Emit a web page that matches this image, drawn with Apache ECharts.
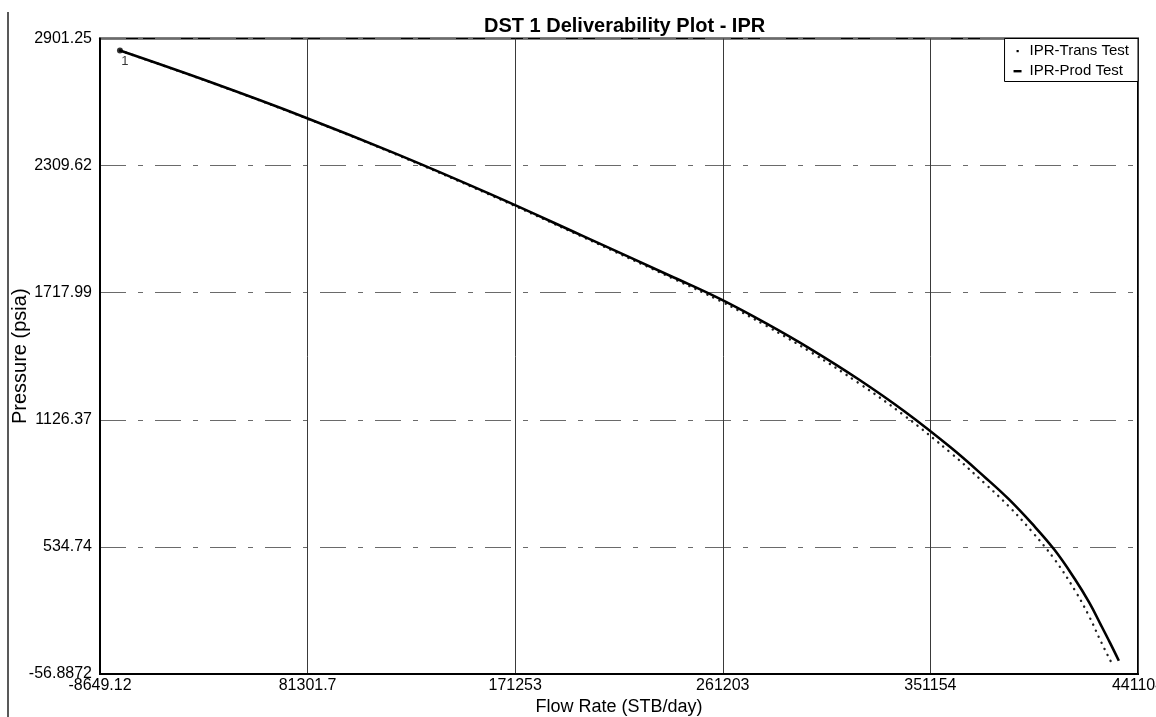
<!DOCTYPE html>
<html>
<head>
<meta charset="utf-8">
<style>
  html, body { margin: 0; padding: 0; background: #fff; }
  #chart { width: 1156px; height: 717px; }
</style>
<script src="https://cdn.jsdelivr.net/npm/echarts@6/dist/echarts.min.js"></script>
</head>
<body>
<div id="chart"></div>
<script>
// ---- Data ----
const xTicks = [-8649.12, 81301.7, 171253, 261203, 351154, 441104];
const xTickLabels = ['-8649.12', '81301.7', '171253', '261203', '351154', '441104'];
const yTicks = [-56.8872, 534.74, 1126.37, 1717.99, 2309.62, 2901.25];
const yTickLabels = ['-56.8872', '534.74', '1126.37', '1717.99', '2309.62', '2901.25'];

// IPR-Prod Test (solid line): flow rate (STB/day) and pressure (psia)
const prodQ = [0, 40000, 80000, 120000, 160000, 200000, 240000, 260000, 280000, 300000, 320000, 340000, 360000, 375000, 385000, 395000, 405000, 413800, 420000, 425000, 429000, 432800];
const prodP = [2845, 2695, 2535, 2363, 2179, 1985, 1789, 1689, 1575, 1451, 1315, 1165, 997, 857, 758, 645, 520, 384, 275, 172, 88, 5];

// IPR-Trans Test (dotted line)
const transQ = [0, 40000, 80000, 120000, 160000, 200000, 240000, 260000, 280000, 300000, 320000, 340000, 360000, 375000, 385000, 395000, 405000, 413800, 420000, 425000, 429300];
const transP = [2845, 2694, 2533, 2360, 2175, 1980, 1782, 1680, 1564, 1437, 1298, 1145, 972, 827, 725, 608, 476, 332, 210, 95, 2];

// Test point "1"
const testQ = [0];
const testP = [2845];
const testLabels = ['1'];

const FONT = 'Liberation Sans';

function pairs(xs, ys) { return xs.map((x, i) => [x, ys[i]]); }
function tickLabel(ticks, labels) {
  return function (v) {
    for (let i = 0; i < ticks.length; i++) {
      if (Math.abs(ticks[i] - v) < 1e-6 * Math.max(1, Math.abs(ticks[i]))) return labels[i];
    }
    return '';
  };
}

const chart = echarts.init(document.getElementById('chart'), null, { renderer: 'canvas' });

chart.setOption({
  animation: false,
  backgroundColor: '#fff',
  title: {
    text: 'DST 1 Deliverability Plot - IPR',
    left: 484,
    top: 16,
    padding: 0,
    textStyle: { fontFamily: FONT, fontSize: 20, fontWeight: 'bold', color: '#000' }
  },
  legend: {
    data: [
      { name: 'IPR-Trans Test', icon: 'path://M0,0 M14,14 M6,6 h2.2 v2.2 h-2.2 z' },
      { name: 'IPR-Prod Test', icon: 'path://M0,0 M14,14 M3,6 h8 v2.4 h-8 z' }
    ],
    orient: 'vertical',
    right: 18,
    top: 38.5,
    itemWidth: 14,
    itemHeight: 14,
    itemGap: 5,
    padding: [5, 9, 3, 6],
    backgroundColor: '#fff',
    borderColor: '#000',
    borderWidth: 1,
    itemStyle: { color: '#000' },
    textStyle: { fontFamily: FONT, fontSize: 15, color: '#000' }
  },
  grid: {
    left: 100,
    right: 18,
    top: 38.5,
    bottom: 43,
    show: true,
    borderColor: '#000',
    borderWidth: 2,
    containLabel: false,
    outerBoundsMode: 'none'
  },
  xAxis: {
    type: 'value',
    min: xTicks[0],
    max: xTicks[xTicks.length - 1],
    name: 'Flow Rate (STB/day)',
    nameLocation: 'middle',
    nameGap: 24,
    nameMoveOverlap: false,
    nameTextStyle: { fontFamily: FONT, fontSize: 18, color: '#000' },
    axisLine: { show: true, onZero: false, lineStyle: { color: '#000', width: 2 } },
    axisTick: { show: false, customValues: xTicks },
    axisLabel: {
      customValues: xTicks,
      formatter: tickLabel(xTicks, xTickLabels),
      margin: 4,
      fontFamily: FONT, fontSize: 16, color: '#000',
      showMinLabel: true, showMaxLabel: true
    },
    splitLine: { show: true, lineStyle: { color: '#3a3a3a', width: 1 } }
  },
  yAxis: {
    type: 'value',
    min: yTicks[0],
    max: yTicks[yTicks.length - 1],
    name: 'Pressure (psia)',
    nameLocation: 'middle',
    nameGap: 70,
    nameMoveOverlap: false,
    nameTextStyle: { fontFamily: FONT, fontSize: 20, color: '#000' },
    axisLine: { show: true, onZero: false, lineStyle: { color: '#000', width: 2 } },
    axisTick: { show: false, customValues: yTicks },
    axisLabel: {
      customValues: yTicks,
      formatter: tickLabel(yTicks, yTickLabels),
      margin: 8,
      fontFamily: FONT, fontSize: 16, color: '#000',
      showMinLabel: true, showMaxLabel: true
    },
    splitLine: { show: true, lineStyle: { color: '#6a6a6a', width: 1, type: [26, 12, 5, 12] } }
  },
  series: [
    {
      name: 'IPR-Trans Test',
      type: 'line',
      data: pairs(transQ, transP),
      smooth: 0.4,
      showSymbol: false,
      symbol: 'none',
      lineStyle: { color: '#222', width: 2.4, type: [0.1, 6.6], cap: 'round' },
      itemStyle: { color: '#000' },
      z: 3
    },
    {
      name: 'IPR-Prod Test',
      type: 'line',
      data: pairs(prodQ, prodP),
      smooth: 0.4,
      showSymbol: false,
      symbol: 'none',
      lineStyle: { color: '#000', width: 2.6 },
      itemStyle: { color: '#000' },
      z: 4
    },
    {
      name: 'Test point',
      type: 'scatter',
      data: testQ.map((q, i) => ({ value: [q, testP[i]], label: { formatter: testLabels[i] } })),
      symbol: 'circle',
      symbolSize: 6,
      itemStyle: { color: '#000' },
      label: {
        show: true,
        position: 'bottom',
        distance: 1,
        offset: [5, 0],
        fontFamily: FONT, fontSize: 13, color: '#000'
      },
      z: 5
    }
  ],
  graphic: [
    {
      type: 'line',
      shape: { x1: 8, y1: 12, x2: 8, y2: 717 },
      style: { stroke: '#222', lineWidth: 1.5 },
      silent: true
    }
  ]
});
</script>
</body>
</html>
